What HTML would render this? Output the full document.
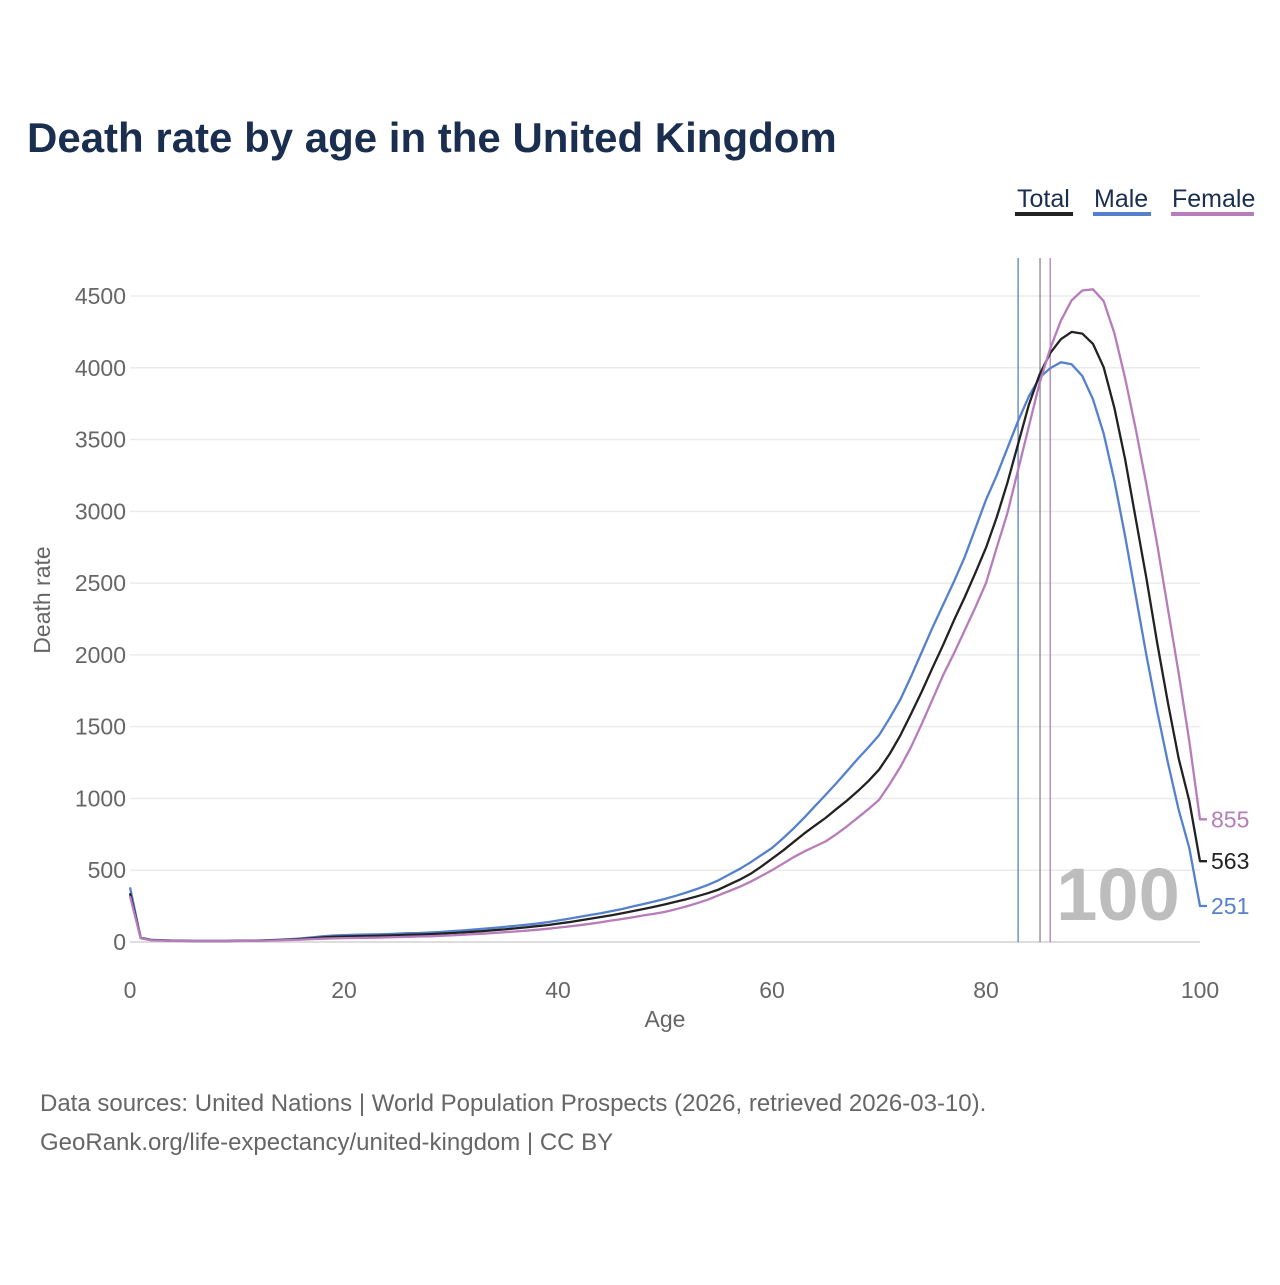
<!DOCTYPE html>
<html><head><meta charset="utf-8"><style>
body{margin:0;background:#fff;font-family:"Liberation Sans",sans-serif}
svg text{font-family:"Liberation Sans",sans-serif}
</style></head><body>
<svg width="1280" height="1280" viewBox="0 0 1280 1280" id="chart">
<rect width="1280" height="1280" fill="#fff"/>
<text x="27" y="152" font-size="42" font-weight="bold" fill="#1a2e4f">Death rate by age in the United Kingdom</text>
<g>
<g><text x="1017" y="207" font-size="25" fill="#1a2e4f">Total</text><rect x="1015" y="212" width="58" height="4" fill="#222"/></g>
<g><text x="1094" y="207" font-size="25" fill="#1a2e4f">Male</text><rect x="1093" y="212" width="58" height="4" fill="#5580cc"/></g>
<g><text x="1172" y="207" font-size="25" fill="#1a2e4f">Female</text><rect x="1171" y="212" width="83" height="4" fill="#b77cba"/></g>
</g>
<g id="grid"></g><g id="axes"></g><g id="series"></g>
<text x="1118" y="920" font-size="74" font-weight="bold" fill="#bdbdbd" text-anchor="middle">100</text>
<text x="665" y="1027" font-size="23" fill="#666" text-anchor="middle">Age</text>
<text transform="translate(50,600) rotate(-90)" font-size="23" fill="#666" text-anchor="middle">Death rate</text>
<text x="40" y="1111" font-size="24" fill="#666">Data sources: United Nations | World Population Prospects (2026, retrieved 2026-03-10).</text>
<text x="40" y="1150" font-size="24" fill="#666">GeoRank.org/life-expectancy/united-kingdom | CC BY</text>
</svg>
<script>
const ages=[];for(let i=0;i<=100;i++)ages.push(i);
const yTicks=[0,500,1000,1500,2000,2500,3000,3500,4000,4500];
const xTicks=[0,20,40,60,80,100];
const male=[380,30,15,12,10,9,8,8,8,8,9,10,11,13,16,20,25,32,40,45,48,50,52,53,55,58,61,63,66,70,75,80,86,92,98,105,112,120,128,138,150,162,175,188,200,215,230,248,265,282,300,322,345,370,398,430,470,510,555,605,655,720,790,865,945,1024,1105,1190,1275,1355,1440,1560,1690,1850,2020,2190,2350,2510,2680,2880,3080,3250,3440,3630,3800,3930,3997,4038,4024,3943,3780,3541,3214,2827,2410,1994,1607,1250,923,655,251];
const total=[340,28,13,11,9,8,7,7,7,7,8,9,10,12,14,17,21,26,32,36,38,40,42,43,45,48,50,52,55,58,62,66,71,76,82,88,95,102,110,118,128,138,150,162,174,187,200,215,230,245,262,280,298,318,340,365,400,435,475,525,580,635,695,755,810,864,925,985,1050,1120,1200,1310,1440,1590,1745,1910,2070,2240,2400,2570,2747,2958,3199,3470,3741,3952,4102,4199,4250,4238,4166,4003,3720,3363,2946,2530,2083,1667,1280,982,563];
const female=[320,25,12,10,8,7,6,6,6,6,7,8,9,10,12,14,17,20,23,25,27,28,29,30,32,34,36,38,40,43,46,50,54,58,63,68,73,79,85,92,100,108,117,127,138,150,160,172,185,197,210,228,248,270,295,325,355,385,420,460,500,545,590,630,665,700,750,805,865,925,990,1100,1220,1360,1520,1690,1860,2010,2170,2330,2500,2747,2988,3289,3590,3892,4133,4328,4470,4538,4547,4464,4241,3928,3571,3184,2768,2321,1875,1399,855];
const lifeExp={male:83.0,total:85.05,female:86.0};
const X=a=>130+a*10.7;
const Y=v=>942-v*(646/4500);
const NS="http://www.w3.org/2000/svg";
function mk(t,attrs,parent){const e=document.createElementNS(NS,t);for(const k in attrs)e.setAttribute(k,attrs[k]);parent.appendChild(e);return e;}
const grid=document.getElementById('grid'),axes=document.getElementById('axes'),series=document.getElementById('series');
yTicks.forEach(t=>{
 const l=mk('line',{x1:130,x2:1200,y1:Y(t),y2:Y(t),stroke:t===0?'#ddd':'#ebebeb','stroke-width':t===0?2:1.5},grid);
 
 
 const tx=mk('text',{x:126,y:Y(t)+8,'font-size':23,fill:'#666','text-anchor':'end'},axes);
 tx.textContent=t;
 
 
});
xTicks.forEach(t=>{
 const tx=mk('text',{x:X(t),y:998,'font-size':23,fill:'#666','text-anchor':'middle'},axes);
 tx.textContent=t;
 
 
});
const defs=[['male',male,'#5580cc',lifeExp.male,'#5580cc'],['total',total,'#222',lifeExp.total,'#888'],['female',female,'#b77cba',lifeExp.female,'#b77cba']];
defs.forEach(([n,d,c,le,vc])=>{
 const v=mk('line',{x1:X(le),x2:X(le),y1:258,y2:942,stroke:vc,'stroke-width':1.3},series);
 
 
});
defs.forEach(([n,d,c])=>{
 let p=d.map((v,i)=>(i?'L':'M')+X(ages[i]).toFixed(1)+','+Y(v).toFixed(1)).join('');
 p+='L'+(X(100)+7)+','+Y(d[100]).toFixed(1);
 const pa=mk('path',{d:p,fill:'none',stroke:c,'stroke-width':2.3,'stroke-linejoin':'round'},series);
 
 
 const lb=mk('text',{x:1211,y:Y(d[100])+8,'font-size':23,fill:c},series);
 lb.textContent=d[100];
 
 
});
</script>
</body></html>
